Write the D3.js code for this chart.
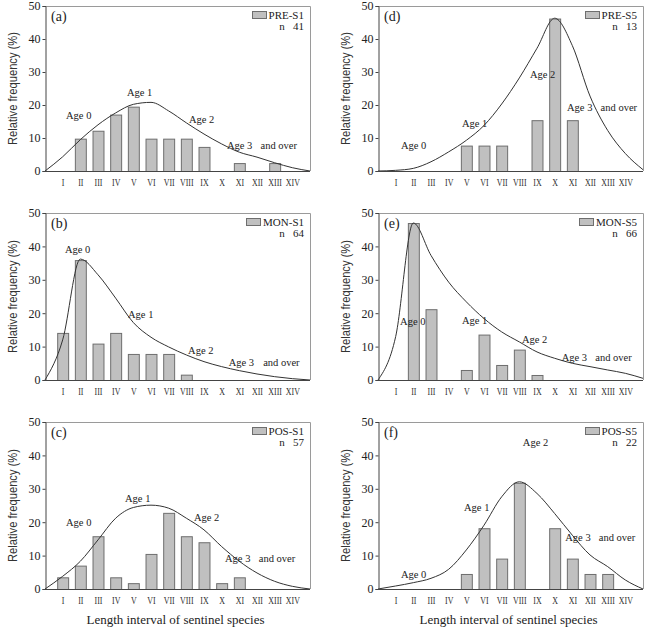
<!DOCTYPE html>
<html><head><meta charset="utf-8">
<script src="https://cdn.jsdelivr.net/npm/d3@7"></script>
<style>
body{margin:0;background:#fff;}
svg{display:block;}
</style></head>
<body><svg id="chart" width="645" height="631"></svg>
<script>
// ---- data ----
const categories = ["I","II","III","IV","V","VI","VII","VIII","IX","X","XI","XII","XIII","XIV"];
const yTicks = [0,10,20,30,40,50];
const panelLetters = ["(a)","(b)","(c)","(d)","(e)","(f)"];
const seriesNames = ["PRE-S1","MON-S1","POS-S1","PRE-S5","MON-S5","POS-S5"];
const sampleSizes = [41,64,57,13,66,22];
const ageLabels = ["Age 0","Age 1","Age 2","Age 3","and over"];

// bar values (%) for categories I..XIV
const preS1 = [0,9.8,12.2,17.1,19.5,9.8,9.8,9.8,7.3,0,2.4,0,2.4,0];
const monS1 = [14.1,35.9,10.9,14.1,7.8,7.8,7.8,1.6,0,0,0,0,0,0];
const posS1 = [3.5,7.0,15.8,3.5,1.75,10.5,22.8,15.8,14.0,1.75,3.5,0,0,0];
const preS5 = [0,0,0,0,7.7,7.7,7.7,0,15.4,46.2,15.4,0,0,0];
const monS5 = [0,47.0,21.2,0,3.0,13.6,4.5,9.1,1.5,0,0,0,0,0];
const posS5 = [0,0,0,0,4.5,18.2,9.1,31.8,0,18.2,9.1,4.5,4.5,0];

// fitted curve values at left edge, I..XIV, right edge
const curvePreS1 = [0,4.3,9.5,14,17.6,20.2,20.8,18.2,14.6,11.2,8.2,5.7,4.2,2.5,1,0];
const curveMonS1 = [0,12,36.2,31.5,24.5,17.2,12.8,9.9,7.5,5.5,4,2.8,1.8,1,0.4,0];
const curvePosS1 = [0,3.8,8.3,14.7,21.2,24.4,25.1,24.2,21.2,17.7,12.7,8.3,4.8,2.3,0.8,0];
const curvePreS5 = [0,0.2,0.8,2.8,5.8,9.3,13.8,20.3,28.2,37.2,46.3,38,22.7,12.3,5.3,0.4];
const curveMonS5 = [0,13,47,37.3,29.3,23.4,18.4,14.4,11.4,8.4,6.5,5,4,3,2,0.5];
const curvePosS5 = [0,0.9,1.9,3.2,5.9,11.7,19.1,27.6,32.1,28.6,22.6,16.1,10.2,6.7,2.7,0];

// age label anchors (category index, value) per panel
const ageAnchorsA = [[1.19,15.9],[4.64,22.8],[8.15,14.4],[10.3,6.6],[12.2,6.6]];
const ageAnchorsB = [[1.13,38.0],[4.70,18.6],[8.1,7.8],[10.4,4.2],[12.35,4.2]];
const ageAnchorsC = [[1.19,18.9],[4.53,26.0],[8.43,20.4],[10.19,8.1],[12.1,8.1]];
const ageAnchorsD = [[1.3,6.6],[4.75,13.2],[8.6,28.1],[10.7,18.3],[12.6,18.3]];
const ageAnchorsE = [[1.25,16.5],[4.75,16.8],[8.15,11.1],[10.4,5.7],[12.3,5.7]];
const ageAnchorsF = [[1.3,3.3],[4.87,23.4],[8.2,42.8],[10.6,14.4],[12.5,14.4]];

const barsAll = [preS1,monS1,posS1,preS5,monS5,posS5];
const curvesAll = [curvePreS1,curveMonS1,curvePosS1,curvePreS5,curveMonS5,curvePosS5];
const anchorsAll = [ageAnchorsA,ageAnchorsB,ageAnchorsC,ageAnchorsD,ageAnchorsE,ageAnchorsF];

// ---- layout ----
const colX = [[45,310],[378,643]];
const rowY = [[6,171],[213,380],[422,589]];
const serif = "'Liberation Serif','Times New Roman',serif";
const sans = "'Liberation Sans',Arial,sans-serif";

const svg = d3.select("#chart");

barsAll.forEach((vals, p) => {
  const col = p < 3 ? 0 : 1, row = p % 3;
  const [x0, x1] = colX[col];
  const [y0, y1] = rowY[row];
  const g = svg.append("g");

  const x = d3.scalePoint().domain(categories).range([x0, x1]).padding(1);
  const xi = d3.scaleLinear().domain([0, categories.length + 1]).range([x0, x1]);
  const y = d3.scaleLinear().domain([0, 50]).range([y1, y0]);
  const bw = x.step() * 0.62;

  // frame (top & right)
  g.append("path")
    .attr("d", `M${x0},${y0 + 0.5}H${x1 + 0.5}V${y1}`)
    .attr("fill", "none").attr("stroke", "#9a9a9a").attr("stroke-width", 1);

  // bars
  g.selectAll("rect.bar").data(vals.map((v, i) => ({c: categories[i], v})).filter(d => d.v > 0))
    .join("rect").attr("class", "bar")
    .attr("x", d => x(d.c) - bw / 2 + 0.5)
    .attr("y", d => y(d.v) + 0.5)
    .attr("width", bw)
    .attr("height", d => y(0) - y(d.v))
    .attr("fill", "#c0c0c0").attr("stroke", "#6e6e6e").attr("stroke-width", 1);

  // fitted curve
  const line = d3.line().x((d, i) => xi(i)).y(d => y(d)).curve(d3.curveMonotoneX);
  g.append("path").datum(curvesAll[p]).attr("d", line)
    .attr("fill", "none").attr("stroke", "#333").attr("stroke-width", 1);

  // y axis
  const ya = g.append("g").attr("transform", `translate(${x0 + 0.5},0)`)
    .call(d3.axisLeft(y).tickValues(yTicks).tickSize(3).tickPadding(2));
  ya.select(".domain").attr("stroke", "#444");
  ya.selectAll(".tick line").attr("stroke", "#444");
  ya.selectAll("text").attr("font-family", serif).attr("font-size", 12).attr("fill", "#222");

  // x axis
  const xa = g.append("g").attr("transform", `translate(0,${y1 + 0.5})`)
    .call(d3.axisBottom(x).tickSize(0).tickPadding(7));
  xa.select(".domain").attr("stroke", "#444").attr("d", `M${x0},0H${x1}`);
  xa.selectAll("text").attr("font-family", serif).attr("font-size", 11).attr("fill", "#333")
    .attr("transform", "scale(0.72,1)");

  // panel letter
  g.append("text").attr("x", x0 + 6).attr("y", y0 + 15).text(panelLetters[p])
    .attr("font-family", serif).attr("font-size", 14).attr("fill", "#222");

  // legend
  const lt = g.append("text").attr("x", x1 - 6).attr("y", y0 + 13).attr("text-anchor", "end")
    .text(seriesNames[p]).attr("font-family", serif).attr("font-size", 11).attr("fill", "#222");
  const tw = lt.node().getComputedTextLength();
  g.append("rect").attr("x", Math.round(x1 - 6 - tw - 17) + 0.5).attr("y", y0 + 5.5).attr("width", 14).attr("height", 7)
    .attr("fill", "#c0c0c0").attr("stroke", "#6e6e6e");
  g.append("text").attr("x", x1 - 6).attr("y", y0 + 24).attr("text-anchor", "end")
    .attr("xml:space", "preserve")
    .text("n   " + sampleSizes[p]).attr("font-family", serif).attr("font-size", 11).attr("fill", "#222");

  // age labels
  anchorsAll[p].forEach((a, k) => {
    g.append("text").attr("x", xi(a[0])).attr("y", y(a[1])).text(ageLabels[k])
      .attr("font-family", serif).attr("font-size", 10.5).attr("fill", "#222");
  });

  // y title
  const cy = (y0 + y1) / 2;
  const tx = col === 0 ? 13 : 346;
  g.append("text").attr("transform", `translate(${tx},${cy}) rotate(-90)`)
    .attr("text-anchor", "middle").attr("dy", "0.35em")
    .attr("textLength", 113).attr("lengthAdjust", "spacingAndGlyphs")
    .text("Relative frequency (%)")
    .attr("font-family", sans).attr("font-size", 12.5).attr("fill", "#333");

  // x title on bottom row
  if (row === 2) {
    g.append("text").attr("x", (x0 + x1) / 2 - 2).attr("y", 624).attr("text-anchor", "middle")
      .attr("textLength", 178).attr("lengthAdjust", "spacingAndGlyphs")
      .text("Length interval of sentinel species")
      .attr("font-family", serif).attr("font-size", 12.5).attr("fill", "#222");
  }
});
</script></body></html>
